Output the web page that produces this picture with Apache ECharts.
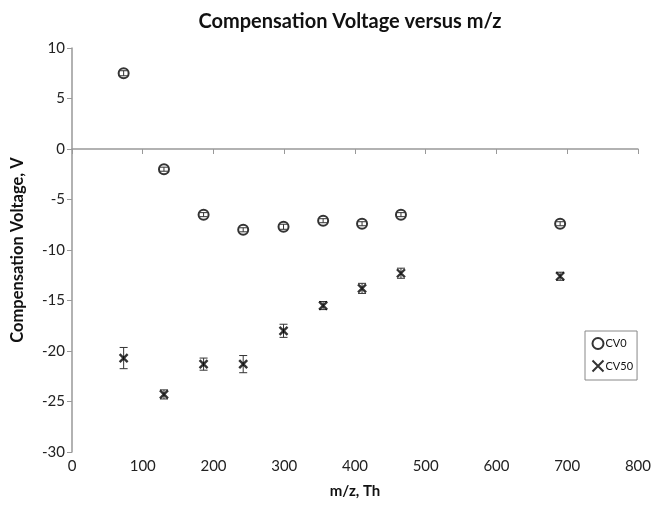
<!DOCTYPE html>
<html>
<head>
<meta charset="utf-8">
<script src="https://cdn.jsdelivr.net/npm/echarts@6/dist/echarts.min.js"></script>
<style>
  html, body { margin: 0; padding: 0; background: #fff; }
  #chart { width: 654px; height: 506px; }
</style>
</head>
<body>
<div id="chart"></div>
<script>
// m/z values (Th)
var mz = [73, 130, 186, 242, 299, 355, 410, 465, 690];
// CV0 series
var cv0 = [7.5, -2.0, -6.5, -8.0, -7.7, -7.1, -7.4, -6.5, -7.4];
var cv0Err = [0.25, 0.2, 0.2, 0.2, 0.25, 0.2, 0.2, 0.2, 0.2];
// CV50 series
var cv50 = [-20.7, -24.3, -21.3, -21.3, -18.0, -15.5, -13.8, -12.3, -12.6];
var cv50Err = [1.05, 0.45, 0.6, 0.85, 0.65, 0.4, 0.5, 0.5, 0.4];

var xTicks = [0, 100, 200, 300, 400, 500, 600, 700, 800];
var yTicks = [-30, -25, -20, -15, -10, -5, 0, 5, 10];

var font = 'Lato, "Open Sans", sans-serif';

function pairs(ys) {
    return mz.map(function(x, i) { return [x, ys[i]]; });
}
function errData(ys, errs) {
    return mz.map(function(x, i) { return [x, ys[i] - errs[i], ys[i] + errs[i]]; });
}
// 误差线
function renderErr(params, api) {
    var x = api.value(0);
    var lo = api.coord([x, api.value(1)]);
    var hi = api.coord([x, api.value(2)]);
    var w = 4;
    var st = { stroke: '#333', lineWidth: 1 };
    return {
        type: 'group',
        children: [
            { type: 'line', shape: { x1: lo[0], y1: lo[1], x2: hi[0], y2: hi[1] }, style: st },
            { type: 'line', shape: { x1: lo[0] - w, y1: lo[1], x2: lo[0] + w, y2: lo[1] }, style: st },
            { type: 'line', shape: { x1: hi[0] - w, y1: hi[1], x2: hi[0] + w, y2: hi[1] }, style: st }
        ]
    };
}

var myChart = echarts.init(document.getElementById('chart'));
var option = {
    backgroundColor: '#fff',
    animation: false,
    title: {
        text: 'Compensation Voltage versus m/z',
        left: 345,
        textAlign: 'center',
        top: 7,
        textStyle: { fontFamily: font, fontSize: 20, fontWeight: 'bold', color: '#111' }
    },
    legend: {
        orient: 'vertical',
        left: 585,
        top: 331,
        width: 50,
        padding: [6, 4, 6, 5],
        itemGap: 8,
        itemWidth: 11,
        itemHeight: 11,
        borderColor: '#888',
        borderWidth: 1,
        textStyle: { fontFamily: font, fontSize: 11, color: '#111', padding: [0, 0, 0, -3] },
        data: ['CV0', 'CV50']
    },
    grid: { left: 72, right: 16, top: 48, bottom: 54 },
    xAxis: {
        type: 'value',
        min: 0, max: 800, interval: 100,
        name: 'm/z, Th',
        nameLocation: 'middle',
        nameGap: 32,
        nameTextStyle: { fontFamily: font, fontSize: 15, fontWeight: 'bold', color: '#111' },
        axisLine: { lineStyle: { color: '#999', width: 1.5 } },
        axisTick: { show: true, length: 5, lineStyle: { color: '#999' } },
        splitLine: { show: false },
        axisLabel: {
            fontFamily: font, fontSize: 15, color: '#222', margin: 7,
            formatter: function(v) { return xTicks.indexOf(v) >= 0 ? String(v) : ''; }
        }
    },
    yAxis: {
        type: 'value',
        min: -30, max: 10, interval: 5,
        name: 'Compensation Voltage, V',
        nameLocation: 'middle',
        nameGap: 46,
        nameTextStyle: { fontFamily: font, fontSize: 16.5, fontWeight: 'bold', color: '#111' },
        axisLine: { show: true, onZero: false, lineStyle: { color: '#999', width: 1.5 } },
        axisTick: { show: true, length: 5, lineStyle: { color: '#999' } },
        splitLine: { show: false },
        axisLabel: {
            fontFamily: font, fontSize: 15, color: '#222', margin: 7,
            formatter: function(v) { return yTicks.indexOf(v) >= 0 ? String(v) : ''; }
        }
    },
    series: [{
        name: 'CV0',
        type: 'scatter',
        symbol: 'emptyCircle',
        symbolSize: 10,
        itemStyle: { color: '#000', borderColor: '#000', borderWidth: 2.5 },
        data: pairs(cv0),
        z: 3
    }, {
        name: 'CV50',
        type: 'scatter',
        symbol: 'path://M0,0L10,10M10,0L0,10',
        symbolSize: 8,
        itemStyle: { color: 'none', borderColor: '#000', borderWidth: 2.4 },
        data: pairs(cv50),
        z: 3
    }, {
        type: 'custom',
        renderItem: renderErr,
        data: errData(cv0, cv0Err),
        z: 4,
        silent: true
    }, {
        type: 'custom',
        renderItem: renderErr,
        data: errData(cv50, cv50Err),
        z: 2,
        silent: true
    }]
};
myChart.setOption(option);
</script>
</body>
</html>
